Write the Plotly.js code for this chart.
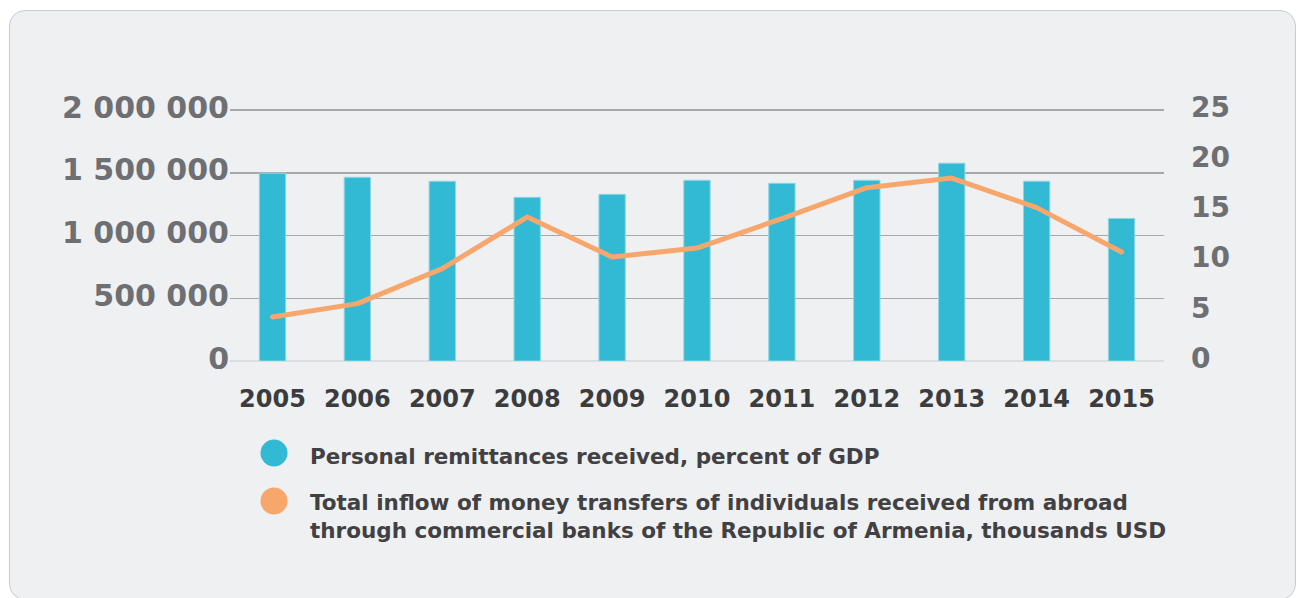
<!DOCTYPE html>
<html>
<head>
<meta charset="utf-8">
<script src="https://cdn.plot.ly/plotly-3.0.1.min.js"></script>
<style>
  html, body { margin: 0; padding: 0; background: #ffffff; }
  #panel { position: absolute; left: 9px; top: 10px; width: 1287px; height: 590px;
           background: #eff0f2; border: 1px solid #c6cdd1; border-radius: 16px; box-sizing: border-box; }
  #chart { position: absolute; left: 0; top: 0; width: 1299px; height: 598px; }
  .scatterlayer .js-line { stroke-linejoin: round; stroke-linecap: round; }
</style>
</head>
<body>
<div id="panel"></div>
<div id="chart"></div>
<script>
// Data
const years = ['2005', '2006', '2007', '2008', '2009', '2010', '2011', '2012', '2013', '2014', '2015'];
const remittancesPctGDP = [18.7, 18.3, 17.9, 16.3, 16.6, 18.0, 17.7, 18.0, 19.7, 17.9, 14.2];
const inflowThousandsUSD = [351000, 457000, 736000, 1147000, 829000, 900000, 1135000, 1381000, 1458000, 1222000, 869000];
const leftTicks = [0, 500000, 1000000, 1500000, 2000000];
const rightTicks = [0, 5, 10, 15, 20, 25];
const legendLabels = [
  'Personal remittances received, percent of GDP',
  'Total inflow of money transfers of individuals received from abroad<br>through commercial banks of the Republic of Armenia, thousands USD'
];

const W = 1299, H = 598;
const L = 230, R = 135, T = 108, B = 237;
const plotW = W - L - R, plotH = H - T - B;
// axis top leaves a little headroom so the top gridline is kept
const headroom = plotH / 251;
const px2x = p => (p - L) / plotW;
const py2y = p => (H - B - p) / plotH;

const FONT = 'DejaVu Sans';
const barColor = '#32b9d3';
const lineColor = '#f7a66c';

const traces = [
  {
    type: 'bar', x: years, y: remittancesPctGDP, yaxis: 'y',
    marker: { color: barColor, line: { color: '#8fd6e5', width: 1 } },
    showlegend: false, hoverinfo: 'x+y'
  },
  {
    type: 'scatter', mode: 'lines', x: years, y: inflowThousandsUSD, yaxis: 'y2',
    line: { color: lineColor, width: 5 },
    showlegend: false, hoverinfo: 'x+y'
  }
];

const legendY = [456, 516];
const circleY = [453, 501];
const legendColors = [barColor, lineColor];

const shapes = legendColors.map((c, i) => ({
  type: 'circle', xref: 'paper', yref: 'paper',
  xsizemode: 'pixel', ysizemode: 'pixel',
  xanchor: px2x(274), yanchor: py2y(circleY[i]),
  x0: -13.5, x1: 13.5, y0: -13.5, y1: 13.5,
  fillcolor: c, line: { width: 0 }
}));

const annotations = legendLabels.map((t, i) => ({
  text: t, xref: 'paper', yref: 'paper',
  x: px2x(308), y: py2y(legendY[i]), xanchor: 'left', yanchor: 'middle',
  align: 'left', showarrow: false,
  font: { family: FONT, size: 21.5, color: '#414042', weight: 700 }
}));

const layout = {
  width: W, height: H,
  margin: { l: L, r: R, t: T, b: B, pad: 0 },
  paper_bgcolor: 'rgba(0,0,0,0)',
  plot_bgcolor: 'rgba(0,0,0,0)',
  separators: '. ',
  bargap: 0.69,
  showlegend: false,
  xaxis: {
    type: 'category', showgrid: false, zeroline: false, showline: false,
    ticks: '', ticklabelstandoff: 21,
    tickfont: { family: FONT, size: 24, color: '#3b3c3e', weight: 700 }
  },
  yaxis: {
    side: 'right', range: [0, 25 * headroom], tickvals: rightTicks,
    showgrid: false, zeroline: false, showline: false, ticks: '',
    ticklabelstandoff: 26, ticklabelshift: -3,
    tickfont: { family: FONT, size: 28, color: '#6d6f72', weight: 700 }
  },
  yaxis2: {
    overlaying: 'y', side: 'left', range: [0, 2000000 * headroom],
    tickvals: leftTicks,
    tickformat: ',d',
    showgrid: true, gridcolor: '#a6a8ab', gridwidth: 1.5,
    zeroline: true, zerolinecolor: '#dcdde0', zerolinewidth: 2,
    showline: false, ticks: '', ticklabelstandoff: 0, ticklabelshift: -3,
    tickfont: { family: FONT, size: 30, color: '#6d6f72', weight: 700 }
  },
  shapes: shapes,
  annotations: annotations
};

Plotly.newPlot('chart', traces, layout, { staticPlot: true, displayModeBar: false });
</script>
</body>
</html>
